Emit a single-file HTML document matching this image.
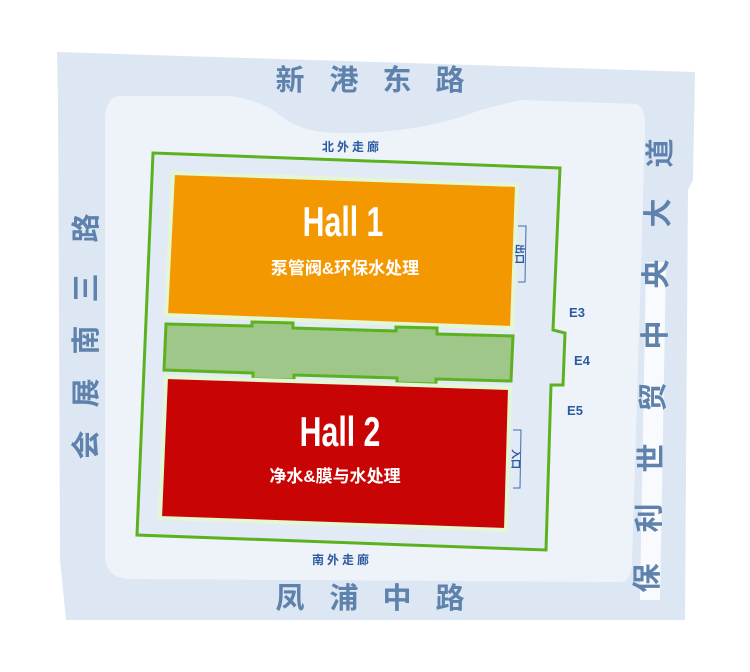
<!DOCTYPE html>
<html><head><meta charset="utf-8"><style>
html,body{margin:0;padding:0;background:#fff}
svg{display:block}
text{font-family:"Liberation Sans","Noto Sans CJK SC",sans-serif}
</style></head><body>
<svg width="750" height="672" viewBox="0 0 750 672" xmlns="http://www.w3.org/2000/svg">
<polygon points="57,52 695,72 693,180 688,190 685,620 66,620 60,560 58,100" fill="#dde7f3"/>
<path d="M120,96 L230,96 Q260,100 280,115 Q300,133 340,133 Q420,134 480,110 L520,100 L636,104 Q646,106 645,130 L640,300 L632,560 Q632,582 620,582 L130,579 Q105,578 105,555 L105,120 Q106,96 120,96 Z" fill="#eef3fa"/>
<path d="M262,97 Q300,118 340,119 Q410,120 475,105 Q430,96 360,98 Z" fill="#dde7f3"/>
<polygon points="646,262 666,262 660,600 640,600" fill="#ffffff" opacity="0.8"/>
<polygon points="153,153 560,168 553,330 565,333 563,385 551,385 546,550 137,535" fill="#e2eaf5" stroke="#5cb21e" stroke-width="3"/>
<polygon points="173,173 517,185 512,328 166,315" fill="#f39800" stroke="#e4f7d4" stroke-width="4"/>
<polygon points="166,324 252,326 252,322 293,323 293,328 396,331 396,327 437,328 437,334 513,336 511,381 436,379 436,384 397,383 397,378 294,375 294,380 253,379 253,373 164,370" fill="#9fc78a" stroke="#5cb21e" stroke-width="3"/>
<polygon points="166,377 510,388 506,530 160,518" fill="#c90404" stroke="#e4f7d4" stroke-width="4"/>
<polyline points="518,226 526,226 525,282 518,282" fill="none" stroke="#3d6cb0" stroke-width="1"/>
<polyline points="513,430 521,430 520,488 513,488" fill="none" stroke="#3d6cb0" stroke-width="1"/>
<g transform="translate(520,254) rotate(90)"><text x="0" y="4" font-size="10" font-weight="bold" fill="#2c5aa0" text-anchor="middle">出口</text></g>
<g transform="translate(516,459) rotate(90)"><text x="0" y="4" font-size="10" font-weight="bold" fill="#2c5aa0" text-anchor="middle">入口</text></g>
<text x="0" y="0" transform="translate(343,236) scale(0.72,1)" font-size="42" font-weight="bold" fill="#fff" text-anchor="middle">Hall 1</text>
<text x="345" y="274" font-size="17" font-weight="bold" fill="#fff" text-anchor="middle">泵管阀&amp;环保水处理</text>
<text x="0" y="0" transform="translate(340,446) scale(0.72,1)" font-size="42" font-weight="bold" fill="#fff" text-anchor="middle">Hall 2</text>
<text x="335" y="482" font-size="17" font-weight="bold" fill="#fff" text-anchor="middle">净水&amp;膜与水处理</text>
<text x="352" y="151" font-size="12" font-weight="bold" fill="#2c5aa0" text-anchor="middle" letter-spacing="3">北外走廊</text>
<text x="342" y="564" font-size="12" font-weight="bold" fill="#2c5aa0" text-anchor="middle" letter-spacing="3">南外走廊</text>
<text x="577" y="317" font-size="13" font-weight="bold" fill="#2c5aa0" text-anchor="middle">E3</text>
<text x="582" y="365" font-size="13" font-weight="bold" fill="#2c5aa0" text-anchor="middle">E4</text>
<text x="575" y="415" font-size="13" font-weight="bold" fill="#2c5aa0" text-anchor="middle">E5</text>
<g font-size="29" font-weight="bold" fill="#5f82ad" text-anchor="middle">
<text x="290" y="90">新</text><text x="344" y="90">港</text><text x="397" y="90">东</text><text x="450" y="90">路</text>
<text x="290" y="608">凤</text><text x="344" y="608">浦</text><text x="397" y="608">中</text><text x="450" y="608">路</text>
<g transform="translate(86,228) rotate(-90)"><text x="0" y="10">路</text></g>
<g transform="translate(86,288) rotate(-90)"><text x="0" y="10">三</text></g>
<g transform="translate(86,340) rotate(-90)"><text x="0" y="10">南</text></g>
<g transform="translate(86,393) rotate(-90)"><text x="0" y="10">展</text></g>
<g transform="translate(86,445) rotate(-90)"><text x="0" y="10">会</text></g>
<g transform="translate(660,153) rotate(-90)"><text x="0" y="10">道</text></g>
<g transform="translate(658,213) rotate(-90)"><text x="0" y="10">大</text></g>
<g transform="translate(656,274) rotate(-90)"><text x="0" y="10">央</text></g>
<g transform="translate(655,335) rotate(-90)"><text x="0" y="10">中</text></g>
<g transform="translate(653,397) rotate(-90)"><text x="0" y="10">贸</text></g>
<g transform="translate(651,458) rotate(-90)"><text x="0" y="10">世</text></g>
<g transform="translate(649,518) rotate(-90)"><text x="0" y="10">利</text></g>
<g transform="translate(647,578) rotate(-90)"><text x="0" y="10">保</text></g>
</g>
</svg>
</body></html>
